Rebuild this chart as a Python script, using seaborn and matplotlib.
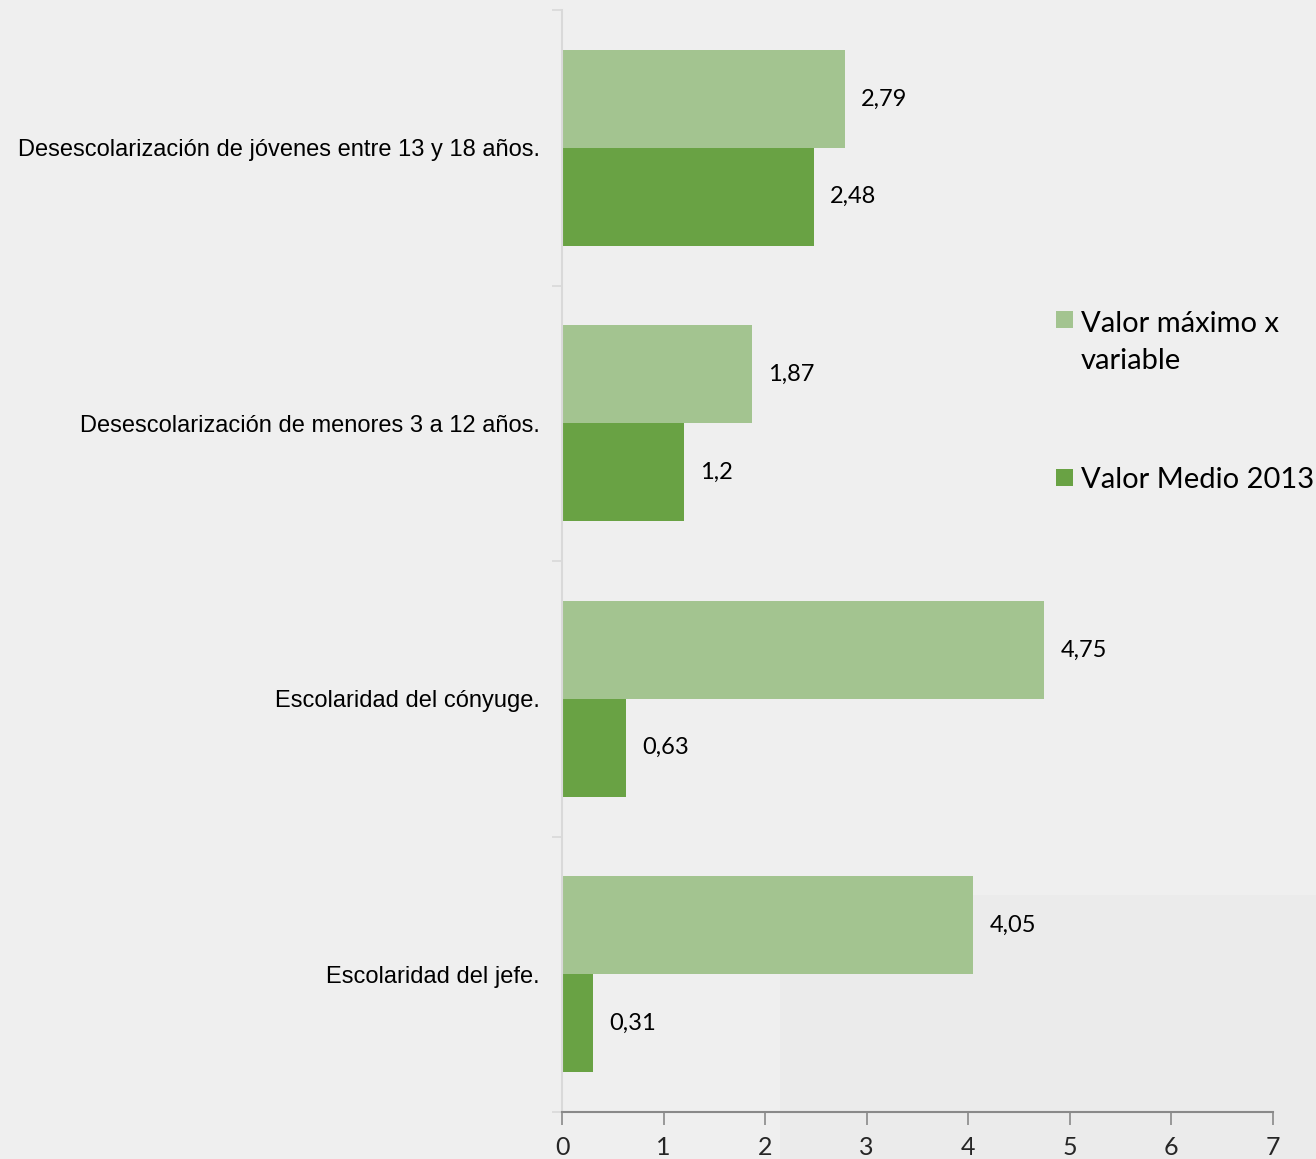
import pandas as pd
import matplotlib.pyplot as plt
import seaborn as sns
from matplotlib.patches import Rectangle

# Data
categorias = [
    "Desescolarización de jóvenes entre 13 y 18 años.",
    "Desescolarización de menores 3 a 12 años.",
    "Escolaridad del cónyuge.",
    "Escolaridad del jefe.",
]
series = ["Valor máximo x variable", "Valor Medio 2013"]
valor_maximo = [2.79, 1.87, 4.75, 4.05]
valor_medio = [2.48, 1.2, 0.63, 0.31]
x_ticks = [0, 1, 2, 3, 4, 5, 6, 7]

df = pd.DataFrame({
    "Variable": categorias * 2,
    "Serie": [series[0]] * len(categorias) + [series[1]] * len(categorias),
    "Valor": valor_maximo + valor_medio,
})

bg = "#EFEFEF"
verde_claro = "#A3C490"
verde_oscuro = "#69A244"

sns.set_theme(style="white")
plt.rcParams["font.family"] = ["Liberation Sans", "DejaVu Sans"]
lato = ["Lato", "DejaVu Sans"]

fig = plt.figure(figsize=(13.16, 11.59), dpi=100, facecolor=bg)
# slightly darker patch in the lower right of the original image
fig.patches.append(Rectangle((780 / 1316, 0), 1 - 780 / 1316, 1 - 895 / 1159,
                             transform=fig.transFigure, facecolor="#EBEBEB",
                             edgecolor="none", zorder=-5))
ax = fig.add_axes([562 / 1316, 1 - 1112 / 1159, (1273 - 562) / 1316, (1112 - 10) / 1159])
ax.set_facecolor("none")

sns.barplot(data=df, y="Variable", x="Valor", hue="Serie", order=categorias,
            hue_order=series, palette=[verde_claro, verde_oscuro], orient="h",
            width=0.71, linewidth=0, saturation=1, legend=False, ax=ax)

# value labels with decimal comma
for cont, vals in zip(ax.containers, [valor_maximo, valor_medio]):
    ax.bar_label(cont, labels=[str(v).replace(".", ",") for v in vals], padding=11.5,
                 fontsize=17, family=lato, color="black")

ax.set_xlim(0, 7)
ax.set_ylim(len(categorias) - 0.5, -0.5)
ax.set_xticks(x_ticks)
ax.set_xticklabels([str(t) for t in x_ticks], fontsize=18, family=lato)
ax.set_yticks(range(len(categorias)))
ax.set_yticklabels(categorias, fontsize=17, color="black")
ax.set_yticks([i - 0.5 for i in range(len(categorias) + 1)], minor=True)
ax.tick_params(axis="y", which="major", length=0, pad=16)
ax.tick_params(axis="y", which="minor", length=7, width=1.2, color="#D9D9D9", left=True)
ax.tick_params(axis="x", length=9, width=1.2, color="#898989", bottom=True, pad=8)
ax.set_xlabel("")
ax.set_ylabel("")

for side in ["top", "right"]:
    ax.spines[side].set_visible(False)
ax.spines["left"].set_color("#D9D9D9")
ax.spines["left"].set_linewidth(1.5)
ax.spines["bottom"].set_color("#898989")
ax.spines["bottom"].set_linewidth(1.5)

# legend drawn by hand so the swatch sits on the first line
# (swatch top px, text baseline px of last line, colour, label)
for sw_px, base_px, col, txt in [(311, 369, verde_claro, "Valor máximo x\nvariable"),
                                 (469, 488, verde_oscuro, "Valor Medio 2013")]:
    fig.patches.append(Rectangle((1056 / 1316, 1 - (sw_px + 17) / 1159), 17 / 1316, 17 / 1159,
                                 transform=fig.transFigure, facecolor=col, edgecolor="none"))
    fig.text(1081 / 1316, 1 - base_px / 1159, txt, fontsize=21, family=lato,
             va="baseline", ha="left", linespacing=1.54, color="black")

fig.savefig("out.png", dpi=100, facecolor=bg)
